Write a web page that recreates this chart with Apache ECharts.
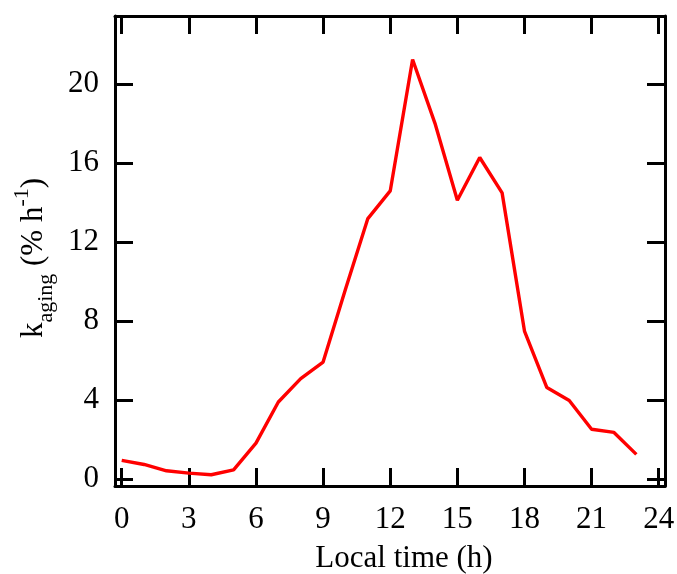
<!DOCTYPE html>
<html>
<head>
<meta charset="utf-8">
<script src="https://cdn.jsdelivr.net/npm/echarts@6/dist/echarts.min.js"></script>
<style>html,body{margin:0;padding:0;background:#fff;}#c{width:677px;height:574px;}</style>
</head>
<body>
<div id="c"></div>
<script>
const hours = [0,1,2,3,4,5,6,7,8,9,10,11,12,13,14,15,16,17,18,19,20,21,22,23];
const kAging = [0.95,0.74,0.42,0.30,0.22,0.47,1.82,3.90,5.08,5.92,9.6,13.18,14.58,21.23,18.0,14.11,16.27,14.48,7.49,4.63,3.98,2.52,2.36,1.25];
const xTicks = [0,3,6,9,12,15,18,21,24];
const yTicks = [0,4,8,12,16,20];

const chart = echarts.init(document.getElementById('c'), null, {renderer:'canvas'});
const FONT = '"Liberation Serif", "Times New Roman", serif';
const axisLine = {show:true, onZero:false, lineStyle:{color:'#000', width:3}};
const tickStyle = {inside:true, length:18, lineStyle:{color:'#000', width:3}};
const xMin = -0.3, xMax = 24.28, yMin = -0.35, yMax = 23.43;

chart.setOption({
  backgroundColor:'#fff',
  animation:false,
  grid:{left:115, right:12, top:16, bottom:88, containLabel:false, outerBoundsMode:'none'},
  xAxis:[{
    type:'value', position:'bottom', min:xMin, max:xMax,
    axisLine:axisLine,
    axisTick:Object.assign({customValues:xTicks}, tickStyle),
    axisLabel:{customValues:xTicks, margin:18, color:'#000', fontFamily:FONT, fontSize:31},
    splitLine:{show:false},
    name:'Local time (h)', nameLocation:'middle', nameGap:57,
    nameTextStyle:{color:'#000', fontFamily:FONT, fontSize:31, padding:[0,0,0,28]}
  },{
    type:'value', position:'top', min:xMin, max:xMax,
    axisLine:axisLine,
    axisTick:Object.assign({customValues:xTicks}, tickStyle),
    axisLabel:{show:false}, splitLine:{show:false}
  }],
  yAxis:[{
    type:'value', position:'left', min:yMin, max:yMax,
    axisLine:axisLine,
    axisTick:Object.assign({customValues:yTicks}, tickStyle),
    axisLabel:{customValues:yTicks, margin:16, color:'#000', fontFamily:FONT, fontSize:31},
    splitLine:{show:false},
    name:'{m|k}{s|aging}{m| (% h}{p|-1}{m|)}',
    nameLocation:'middle', nameGap:49, nameRotate:90,
    nameTextStyle:{
      color:'#000', fontFamily:FONT, fontSize:31,
      padding:[0,14,0,0],
      rich:{
        m:{fontFamily:FONT, fontSize:31, color:'#000', lineHeight:46, verticalAlign:'middle'},
        s:{fontFamily:FONT, fontSize:22, color:'#000', lineHeight:22, verticalAlign:'bottom'},
        p:{fontFamily:FONT, fontSize:22, color:'#000', lineHeight:18, verticalAlign:'top'}
      }
    }
  },{
    type:'value', position:'right', min:yMin, max:yMax,
    axisLine:axisLine,
    axisTick:Object.assign({customValues:yTicks}, tickStyle),
    axisLabel:{show:false}, splitLine:{show:false}
  }],
  series:[{
    type:'line', xAxisIndex:0, yAxisIndex:0,
    data:hours.map((h,i)=>[h,kAging[i]]),
    showSymbol:false, symbol:'none',
    lineStyle:{color:'#ff0000', width:3.4},
    itemStyle:{color:'#ff0000'}
  }]
});
</script>
</body>
</html>
